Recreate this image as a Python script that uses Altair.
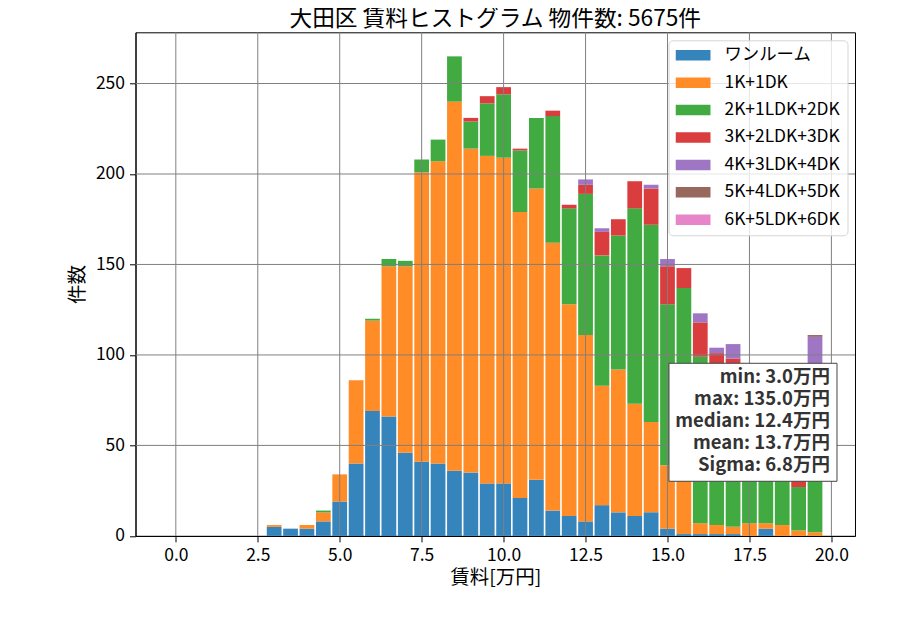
"""Stacked rent histogram for Ota ward, by floor plan type."""

import altair as alt
import pandas as pd

FONT = "Noto Sans CJK JP"

# bin centres in 万円 (bins 0.5 wide)
bin_centers = [
    3.0, 3.5, 4.0, 4.5, 5.0, 5.5, 6.0, 6.5, 7.0, 7.5, 8.0, 8.5, 9.0, 9.5, 10.0, 10.5, 11.0,
    11.5, 12.0, 12.5, 13.0, 13.5, 14.0, 14.5, 15.0, 15.5, 16.0, 16.5, 17.0, 17.5, 18.0, 18.5,
    19.0, 19.5,
]
categories = [
    "ワンルーム", "1K+1DK", "2K+1LDK+2DK", "3K+2LDK+3DK",
    "4K+3LDK+4DK", "5K+4LDK+5DK", "6K+5LDK+6DK",
]
colors = ["#3585bc", "#ff8c26", "#41aa41", "#da3d3e", "#9f76c4", "#98675d", "#e685c8"]

one_room = [5, 4, 4, 8, 19, 40, 69, 66, 46, 41, 40, 36, 35, 29, 29, 21, 31,
            14, 11, 8, 17, 13, 11, 13, 4, 1, 1, 1, 1, 0, 4, 0, 0, 0]
k1_dk1 = [1, 0, 2, 5, 15, 46, 50, 83, 103, 160, 167, 204, 179, 181, 180, 158, 161,
          148, 117, 103, 66, 79, 62, 50, 35, 44, 6, 5, 4, 7, 3, 6, 3, 2]
k2_ldk2 = [0, 0, 0, 1, 0, 0, 1, 4, 3, 7, 12, 25, 15, 29, 35, 34, 39,
           70, 53, 78, 72, 74, 108, 109, 89, 92, 92, 88, 86, 70, 65, 60, 24, 58]
k3_ldk3 = [0, 0, 0, 0, 0, 0, 0, 0, 0, 0, 0, 0, 2, 4, 4, 1, 0,
           3, 2, 5, 13, 9, 15, 20, 21, 11, 19, 7, 7, 8, 6, 5, 15, 20]
k4_ldk4 = [0, 0, 0, 0, 0, 0, 0, 0, 0, 0, 0, 0, 0, 0, 0, 0, 0,
           0, 0, 3, 2, 0, 0, 2, 4, 0, 5, 3, 8, 3, 2, 2, 3, 30]
k5_ldk5 = [0, 0, 0, 0, 0, 0, 0, 0, 0, 0, 0, 0, 0, 0, 0, 0, 0,
           0, 0, 0, 0, 0, 0, 0, 0, 0, 0, 0, 0, 0, 0, 0, 0, 1]
k6_ldk6 = [0] * 34

x_ticks = [0.0, 2.5, 5.0, 7.5, 10.0, 12.5, 15.0, 17.5, 20.0]
y_ticks = [0, 50, 100, 150, 200, 250]
stats_lines = ["min: 3.0万円", "max: 135.0万円", "median: 12.4万円", "mean: 13.7万円", "Sigma: 6.8万円"]
title_text = "大田区 賃料ヒストグラム 物件数: 5675件"

series = [one_room, k1_dk1, k2_ldk2, k3_ldk3, k4_ldk4, k5_ldk5, k6_ldk6]
rows = []
for k, (name, counts) in enumerate(zip(categories, series)):
    for c, n in zip(bin_centers, counts):
        if n > 0:
            rows.append({"type": name, "k": k, "lo": c - 0.225, "hi": c + 0.225, "count": n})
bars_df = pd.DataFrame(rows)

x_scale = alt.Scale(domain=[-1.23, 20.72], nice=False, zero=False)
y_scale = alt.Scale(domain=[0, 278.3], nice=False)

bars = (
    alt.Chart(bars_df)
    .transform_stack(
        stack="count",
        as_=["y0", "y1"],
        groupby=["lo"],
        sort=[alt.SortField("k", order="ascending")],
    )
    .mark_bar()
    .encode(
        x=alt.X(
            "lo:Q",
            scale=x_scale,
            axis=alt.Axis(values=x_ticks, format=".1f", title="賃料[万円]"),
        ),
        x2="hi:Q",
        y=alt.Y(
            "y0:Q",
            scale=y_scale,
            axis=alt.Axis(values=y_ticks, title="件数"),
        ),
        y2="y1:Q",
        color=alt.Color(
            "type:N",
            scale=alt.Scale(domain=categories, range=colors),
            legend=alt.Legend(
                title=None,
                orient="top-right",
                offset=8,
                symbolType="M-1,-0.3H1V0.3H-1Z",
                symbolSize=1225,
                symbolStrokeWidth=0,
                symbolOpacity=1,
                labelFont=FONT,
                labelFontSize=17.4,
                labelColor="black",
                labelOffset=14,
                labelLimit=300,
                clipHeight=16,
                rowPadding=9.4,
                padding=7,
                fillColor="rgba(255,255,255,0.8)",
                strokeColor="#d5d5d5",
                cornerRadius=4,
            ),
        ),
    )
)

# grid drawn over the bars, as in the original figure
vgrid = (
    alt.Chart(pd.DataFrame({"v": x_ticks}))
    .mark_rule(color="#808080", strokeWidth=1)
    .encode(x=alt.X("v:Q", scale=x_scale))
)
hgrid = (
    alt.Chart(pd.DataFrame({"v": y_ticks[1:]}))
    .mark_rule(color="#808080", strokeWidth=1)
    .encode(y=alt.Y("v:Q", scale=y_scale))
)

stats_df = pd.DataFrame({"label": ["\n".join(stats_lines)]})
stats_box = (
    alt.Chart(stats_df)
    .mark_rect(fill="white", stroke="#444444", strokeWidth=1)
    .encode(x=alt.value(533.5), x2=alt.value(701.5), y=alt.value(331), y2=alt.value(449))
)
stats_text = (
    alt.Chart(stats_df)
    .mark_text(
        align="right",
        baseline="middle",
        lineBreak="\n",
        lineHeight=22.1,
        font=FONT,
        fontSize=18.5,
        fontWeight="bold",
        color="#333333",
    )
    .encode(x=alt.value(694.5), y=alt.value(344.5), text="label:N")
)

chart = (
    alt.layer(bars, vgrid, hgrid, stats_box, stats_text)
    .properties(
        width=719.5,
        height=503.6,
        autosize=alt.AutoSizeParams(type="none"),
        padding={"left": 127.5, "top": 24.3, "right": 37, "bottom": 86},
        title=alt.TitleParams(
            text=title_text, font=FONT, fontSize=22.7, fontWeight="normal", color="black",
            anchor="middle", offset=1,
        ),
    )
    .configure_axis(
        grid=False,
        domainColor="black",
        tickColor="black",
        tickSize=6,
        labelPadding=5,
        labelFont=FONT,
        labelFontSize=17.5,
        labelColor="black",
        titleFont=FONT,
        titleFontSize=19.5,
        titleFontWeight="normal",
        titleColor="black",
    )
    .configure_axisX(titlePadding=4)
    .configure_axisY(titlePadding=8)
    .configure_view(stroke="black", strokeWidth=1)
)

chart.save("out.html", embed_options={"renderer": "svg", "actions": False})
